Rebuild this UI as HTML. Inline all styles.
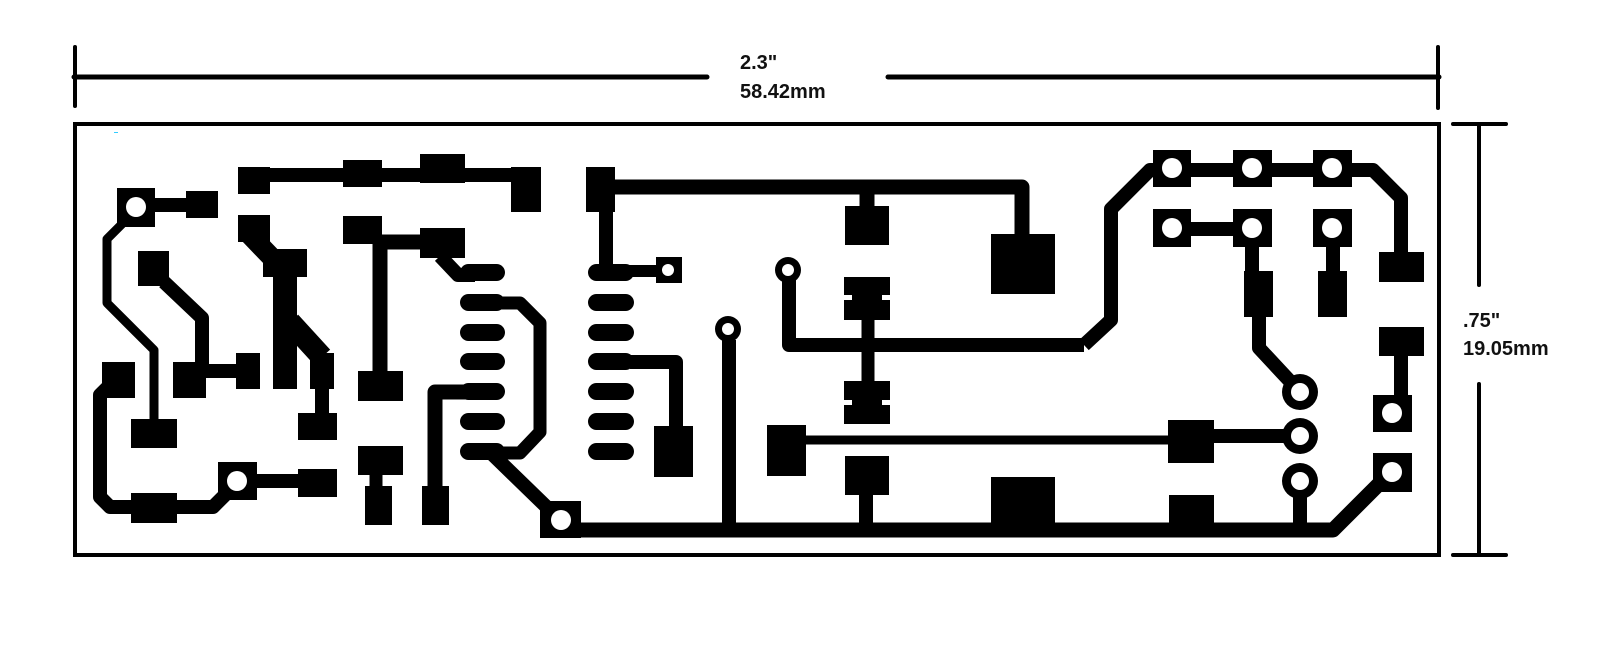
<!DOCTYPE html>
<html><head><meta charset="utf-8"><style>
html,body{margin:0;padding:0;background:#fff;width:1602px;height:659px;overflow:hidden}
svg{display:block}
text{font-family:"Liberation Sans",sans-serif;font-weight:bold;font-size:20px;fill:#111}
</style></head><body>
<svg width="1602" height="659" viewBox="0 0 1602 659" xmlns="http://www.w3.org/2000/svg">
<rect width="1602" height="659" fill="#fff"/>
<!-- dimensions -->
<g stroke="#000" stroke-width="4" fill="none" stroke-linecap="round">
<line x1="74" y1="77" x2="707" y2="77" stroke-width="5"/>
<line x1="888" y1="77" x2="1439" y2="77" stroke-width="5"/>
<line x1="75" y1="47" x2="75" y2="106"/>
<line x1="1438" y1="47" x2="1438" y2="108"/>
<line x1="1453" y1="124" x2="1506" y2="124"/>
<line x1="1453" y1="555" x2="1506" y2="555"/>
<line x1="1479" y1="124" x2="1479" y2="285"/>
<line x1="1479" y1="384" x2="1479" y2="555"/>
<rect x="75" y="124" width="1364" height="431"/>
</g>
<text x="740" y="69">2.3"</text>
<text x="740" y="98">58.42mm</text>
<text x="1463" y="327">.75"</text>
<text x="1463" y="355">19.05mm</text>
<rect x="114" y="132" width="4" height="1" fill="#3cf"/>

<!-- traces -->
<g stroke="#000" fill="none" stroke-linejoin="round" stroke-width="14">
<line x1="155" y1="205" x2="190" y2="205"/>
<polyline points="122,224 107,239 107,303 154,350 154,420" stroke-width="9"/>
<polyline points="164,282 202,318 202,368"/>
<line x1="206" y1="371" x2="237" y2="371"/>
<polyline points="110,385 100,395 100,497 110,507 213,507 228,492"/>
<line x1="257" y1="481" x2="300" y2="481"/>
<line x1="270" y1="175" x2="511" y2="175"/>
<line x1="250" y1="235" x2="276" y2="262" stroke-width="20"/>
<line x1="290" y1="322" x2="322" y2="357" stroke-width="22"/>
<line x1="322" y1="389" x2="322" y2="415"/>
<line x1="380" y1="244" x2="380" y2="371" stroke-width="15"/>
<line x1="382" y1="242" x2="420" y2="242" stroke-width="15"/>
<line x1="376" y1="475" x2="376" y2="488" stroke-width="13"/>
<polyline points="440,256 458,275 475,275"/>
<polyline points="500,303 520,303 540,323 540,432 520,453 500,453" stroke-width="13"/>
<line x1="490" y1="452" x2="560" y2="520"/>
<polyline points="480,392 435,392 435,490" stroke-width="15"/>
<!-- middle -->
<polyline points="615,187 1022,187 1022,236" stroke-width="15"/>
<line x1="606" y1="212" x2="606" y2="273"/>
<line x1="595" y1="271" x2="660" y2="271" stroke-width="12"/>
<polyline points="630,362 676,362 676,428"/>
<line x1="729" y1="340" x2="729" y2="530"/>
<polyline points="789,280 789,345 1084,345"/>
<line x1="867" y1="187" x2="867" y2="207" stroke-width="15"/>
<line x1="868" y1="318" x2="868" y2="383" stroke-width="13"/>
<line x1="806" y1="440" x2="1170" y2="440" stroke-width="9"/>
<line x1="1214" y1="436" x2="1290" y2="436"/>
<line x1="866" y1="494" x2="866" y2="524"/>
<polyline points="570,530 1333,530 1390,473" stroke-width="15"/>
<!-- right -->
<polyline points="1172,170 1373,170 1401,198 1401,254"/>
<polyline points="1172,170 1150,170 1111,209 1111,320 1084,345"/>
<line x1="1172" y1="229" x2="1252" y2="229"/>
<line x1="1252" y1="245" x2="1252" y2="273"/>
<polyline points="1259,316 1259,348 1300,392"/>
<line x1="1333" y1="245" x2="1333" y2="273"/>
<line x1="1401" y1="355" x2="1401" y2="397"/>
<line x1="1300" y1="495" x2="1300" y2="530"/>
</g>

<!-- pads -->
<g fill="#000">
<rect x="117" y="188" width="38" height="39"/>
<rect x="186" y="191" width="32" height="27"/>
<rect x="131" y="419" width="46" height="29"/>
<rect x="138" y="251" width="31" height="35"/>
<rect x="173" y="362" width="33" height="36"/>
<rect x="236" y="353" width="24" height="36"/>
<rect x="102" y="362" width="33" height="36"/>
<rect x="131" y="493" width="46" height="30"/>
<rect x="218" y="462" width="39" height="38"/>
<rect x="298" y="469" width="39" height="28"/>
<rect x="238" y="167" width="32" height="27"/>
<rect x="343" y="160" width="39" height="27"/>
<rect x="420" y="154" width="45" height="29"/>
<rect x="511" y="167" width="30" height="45"/>
<rect x="238" y="215" width="32" height="27"/>
<rect x="263" y="249" width="44" height="28"/>
<rect x="273" y="277" width="24" height="112"/>
<rect x="310" y="353" width="24" height="36"/>
<rect x="298" y="413" width="39" height="27"/>
<rect x="343" y="216" width="39" height="28"/>
<rect x="420" y="228" width="45" height="30"/>
<rect x="358" y="371" width="45" height="30"/>
<rect x="358" y="446" width="45" height="29"/>
<rect x="365" y="486" width="27" height="39"/>
<rect x="422" y="486" width="27" height="39"/>
<rect x="540" y="501" width="41" height="37"/>
<!-- ovals -->
<rect x="460" y="264" width="45" height="17" rx="8.5"/>
<rect x="460" y="294" width="45" height="17" rx="8.5"/>
<rect x="460" y="324" width="45" height="17" rx="8.5"/>
<rect x="460" y="353" width="45" height="17" rx="8.5"/>
<rect x="460" y="383" width="45" height="17" rx="8.5"/>
<rect x="460" y="413" width="45" height="17" rx="8.5"/>
<rect x="460" y="443" width="45" height="17" rx="8.5"/>
<rect x="588" y="264" width="46" height="17" rx="8.5"/>
<rect x="588" y="294" width="46" height="17" rx="8.5"/>
<rect x="588" y="324" width="46" height="17" rx="8.5"/>
<rect x="588" y="353" width="46" height="17" rx="8.5"/>
<rect x="588" y="383" width="46" height="17" rx="8.5"/>
<rect x="588" y="413" width="46" height="17" rx="8.5"/>
<rect x="588" y="443" width="46" height="17" rx="8.5"/>
<!-- middle -->
<rect x="586" y="167" width="29" height="45"/>
<rect x="656" y="257" width="26" height="26"/>
<rect x="654" y="426" width="39" height="51"/>
<circle cx="728" cy="329" r="13"/>
<circle cx="788" cy="270" r="13"/>
<rect x="845" y="206" width="44" height="39"/>
<rect x="844" y="277" width="46" height="43"/>
<rect x="844" y="381" width="46" height="43"/>
<rect x="991" y="234" width="64" height="60"/>
<rect x="767" y="425" width="39" height="51"/>
<rect x="1168" y="420" width="46" height="43"/>
<rect x="845" y="456" width="44" height="39"/>
<rect x="991" y="477" width="64" height="46"/>
<rect x="1169" y="495" width="45" height="28"/>
<!-- right -->
<rect x="1153" y="150" width="38" height="37"/>
<rect x="1233" y="150" width="39" height="37"/>
<rect x="1313" y="150" width="39" height="37"/>
<rect x="1153" y="209" width="38" height="38"/>
<rect x="1233" y="209" width="39" height="38"/>
<rect x="1313" y="209" width="39" height="38"/>
<rect x="1244" y="271" width="29" height="46"/>
<rect x="1318" y="271" width="29" height="46"/>
<rect x="1379" y="252" width="45" height="30"/>
<rect x="1379" y="327" width="45" height="29"/>
<rect x="1373" y="395" width="39" height="37"/>
<rect x="1373" y="453" width="39" height="39"/>
<circle cx="1300" cy="392" r="18"/>
<circle cx="1300" cy="436" r="18"/>
<circle cx="1300" cy="481" r="18"/>
</g>
<!-- holes and notches -->
<g fill="#fff">
<circle cx="136" cy="207" r="10"/>
<circle cx="237" cy="481" r="10"/>
<circle cx="561" cy="520" r="10"/>
<circle cx="668" cy="270" r="6"/>
<circle cx="728" cy="329" r="6"/>
<circle cx="788" cy="270" r="6"/>
<rect x="844" y="295" width="8" height="5"/>
<rect x="882" y="295" width="8" height="5"/>
<rect x="844" y="400" width="8" height="5"/>
<rect x="882" y="400" width="8" height="5"/>
<circle cx="1172" cy="168" r="10"/>
<circle cx="1252" cy="168" r="10"/>
<circle cx="1332" cy="168" r="10"/>
<circle cx="1172" cy="228" r="10"/>
<circle cx="1252" cy="228" r="10"/>
<circle cx="1332" cy="228" r="10"/>
<circle cx="1392" cy="413" r="10"/>
<circle cx="1392" cy="472" r="10"/>
<circle cx="1300" cy="392" r="9"/>
<circle cx="1300" cy="436" r="9"/>
<circle cx="1300" cy="481" r="9"/>
</g>
</svg>
</body></html>
